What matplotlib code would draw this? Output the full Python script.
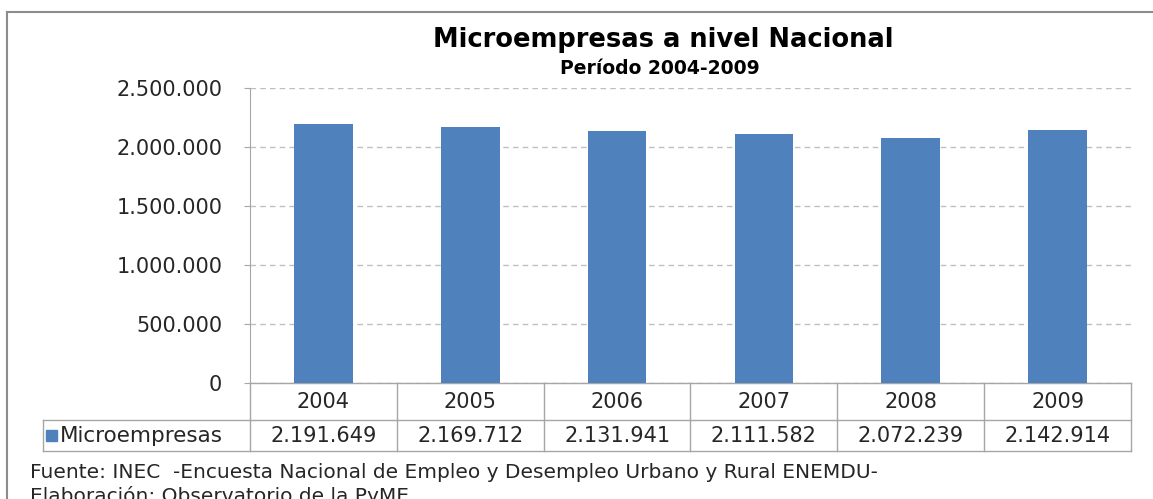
import matplotlib
matplotlib.use("Agg")
import matplotlib.pyplot as plt
from matplotlib.ticker import FuncFormatter, MultipleLocator
from matplotlib.lines import Line2D
from matplotlib.patches import Rectangle
import matplotlib.transforms as mtransforms

years = ["2004", "2005", "2006", "2007", "2008", "2009"]
microempresas = [2191649, 2169712, 2131941, 2111582, 2072239, 2142914]
series_name = "Microempresas"
title = "Microempresas a nivel Nacional"
subtitle = "Período 2004-2009"
footer1 = "Fuente: INEC  -Encuesta Nacional de Empleo y Desempleo Urbano y Rural ENEMDU-"
footer2 = "Elaboración: Observatorio de la PyME"

BLUE = "#4F81BD"
GRID = "#BFBFBF"
LINE = "#A6A6A6"
TXT = "#262626"
FONT = "DejaVu Sans"
plt.rcParams["font.family"] = FONT

W, H = 1153, 499
fig = plt.figure(figsize=(W / 100, H / 100), dpi=100)

def fx(px):
    return px / W

def fy(py):
    return 1 - py / H

ax_l, ax_r, ax_t, ax_b = 250, 1131, 88, 383
ax = fig.add_axes([fx(ax_l), fy(ax_b), fx(ax_r - ax_l), (ax_b - ax_t) / H])

xs = list(range(len(years)))
ax.bar(xs, microempresas, width=0.4, color=BLUE, zorder=3)
ax.set_xlim(-0.5, len(years) - 0.5)
ax.set_ylim(0, 2500000)
ax.yaxis.set_major_locator(MultipleLocator(500000))
ax.yaxis.set_major_formatter(FuncFormatter(lambda v, p: f"{int(v):,}".replace(",", ".")))
ax.grid(axis="y", color=GRID, linestyle=(0, (4, 3)), linewidth=1, zorder=0)
for s in ["top", "right", "bottom"]:
    ax.spines[s].set_visible(False)
ax.spines["left"].set_color(LINE)
ax.set_xticks([])
ax.tick_params(axis="y", length=4, color=LINE, labelsize=15, pad=16, labelcolor=TXT)

# table below the plot area
trans = mtransforms.blended_transform_factory(ax.transData, ax.transAxes)
axh = ax_b - ax_t
y0 = 0.0
y1 = -(420 - ax_b) / axh
y2 = -(451 - ax_b) / axh
xleft = -(ax_l - 43) / (ax_r - ax_l)

def hline(y, xa, xb):
    ax.add_line(Line2D([xa, xb], [y, y], transform=ax.transAxes, color=LINE, lw=1, clip_on=False))

hline(y0, 0, 1)
hline(y1, xleft, 1)
hline(y2, xleft, 1)
ax.add_line(Line2D([xleft, xleft], [y1, y2], transform=ax.transAxes, color=LINE, lw=1, clip_on=False))
ax.add_line(Line2D([0, 0], [y0, y2], transform=ax.transAxes, color=LINE, lw=1, clip_on=False))
for i in xs:
    ax.add_line(Line2D([i + 0.5, i + 0.5], [y0, y2], transform=trans, color=LINE, lw=1, clip_on=False))

for i, (yr, v) in enumerate(zip(years, microempresas)):
    ax.text(i, (y0 + y1) / 2, yr, transform=trans, ha="center", va="center", fontsize=15, color=TXT)
    ax.text(i, (y1 + y2) / 2, f"{v:,}".replace(",", "."), transform=trans, ha="center", va="center",
            fontsize=15, color=TXT)

# legend key in row label cell
sq = 11 / (ax_r - ax_l)
ax.add_patch(Rectangle((xleft + 3 / (ax_r - ax_l), (y1 + y2) / 2 - 5.5 / axh), sq, 11 / axh,
                       transform=ax.transAxes, color=BLUE, clip_on=False))
ax.text(xleft + 17 / (ax_r - ax_l), (y1 + y2) / 2, series_name, transform=ax.transAxes,
        ha="left", va="center", fontsize=15.5, color=TXT)

# titles
fig.text(fx(663), fy(40), title, ha="center", va="center", fontsize=18.5, fontweight="bold")
fig.text(fx(660), fy(68), subtitle, ha="center", va="center", fontsize=13.5, fontweight="bold")

# footers
fig.text(fx(30), fy(472), footer1, ha="left", va="center", fontsize=14.5, color=TXT)
fig.text(fx(30), fy(496), footer2, ha="left", va="center", fontsize=14.5, color=TXT)

# outer border
fig.add_artist(Line2D([fx(7), 1], [fy(12), fy(12)], transform=fig.transFigure, color="#8C8C8C", lw=1.5))
fig.add_artist(Line2D([fx(7), fx(7)], [fy(12), 0], transform=fig.transFigure, color="#8C8C8C", lw=1.5))

fig.savefig("out.png", dpi=100)
